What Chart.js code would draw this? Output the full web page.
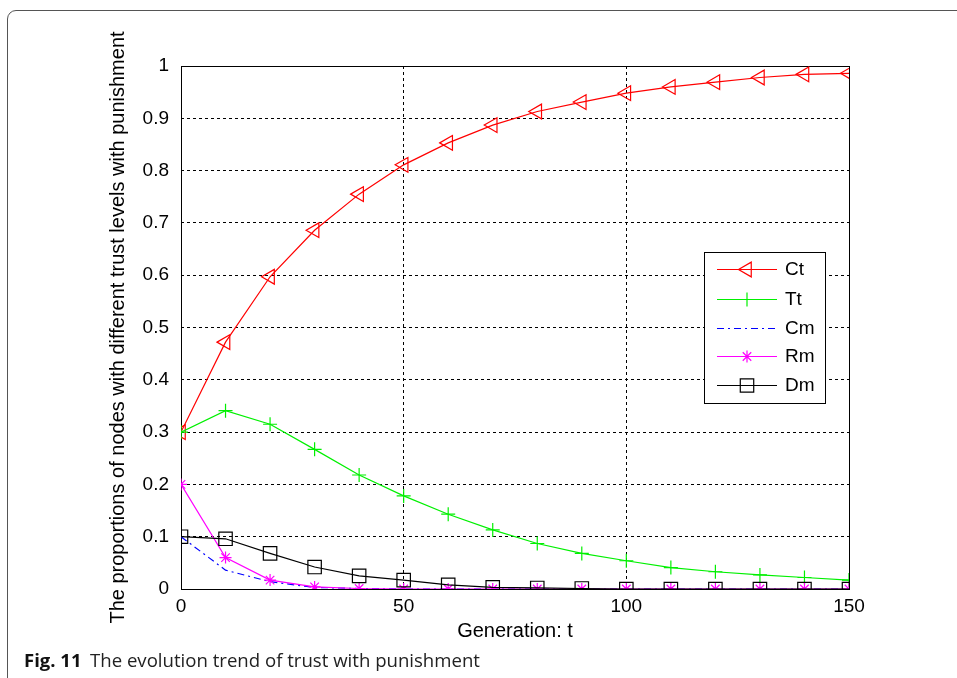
<!DOCTYPE html>
<html>
<head>
<meta charset="utf-8">
<script src="https://cdn.jsdelivr.net/npm/chart.js@4.4.0/dist/chart.umd.min.js"></script>
<style>
  html, body { margin: 0; padding: 0; background: #fff; overflow: hidden; }
  #frame { position: absolute; left: 7px; top: 10px; width: 1000px; height: 1000px; border: 1px solid #555; border-radius: 9px; }
  #wrap { position: absolute; left: 0; top: 0; width: 957px; height: 678px; }
</style>
</head>
<body>
<div id="frame"></div>
<div id="wrap"><canvas id="chart"></canvas></div>
<script>
// valores (cada 10 generaciones)
const generaciones = [0, 10, 20, 30, 40, 50, 60, 70, 80, 90, 100, 110, 120, 130, 140, 150];
const valoresCt = [0.30, 0.472, 0.597, 0.686, 0.755, 0.811, 0.853, 0.887, 0.913, 0.931, 0.948, 0.960, 0.969, 0.978, 0.984, 0.986];
const valoresTt = [0.30, 0.341, 0.315, 0.267, 0.218, 0.178, 0.143, 0.113, 0.087, 0.068, 0.054, 0.041, 0.033, 0.027, 0.022, 0.017];
const valoresCm = [0.10, 0.036, 0.014, 0.003, 0.001, 0, 0, 0, 0, 0, 0, 0, 0, 0, 0, 0];
const valoresRm = [0.20, 0.060, 0.017, 0.004, 0.001, 0, 0, 0, 0, 0, 0, 0, 0, 0, 0, 0];
const valoresDm = [0.10, 0.096, 0.068, 0.042, 0.025, 0.017, 0.008, 0.003, 0.002, 0.001, 0, 0, 0, 0, 0, 0];
const nombresSeries = ['Ct', 'Tt', 'Cm', 'Rm', 'Dm'];
const ticksX = [0, 50, 100, 150];
const ticksY = [0, 0.1, 0.2, 0.3, 0.4, 0.5, 0.6, 0.7, 0.8, 0.9, 1];
const etiquetasY = ['0', '0.1', '0.2', '0.3', '0.4', '0.5', '0.6', '0.7', '0.8', '0.9', '1'];

const fuenteEjes = 'Arial, "Liberation Sans", sans-serif';

function puntos(valores) {
    return generaciones.map((g, i) => ({ x: g, y: valores[i] }));
}

// caja completa del area de graficos (estilo matlab)
const cajaEjes = {
    id: 'cajaEjes',
    beforeDatasetsDraw(chart) {
        const { ctx, chartArea: a } = chart;
        ctx.save();
        ctx.strokeStyle = '#000';
        ctx.lineWidth = 1;
        ctx.strokeRect(Math.round(a.left) + 0.5, Math.round(a.top) + 0.5,
            Math.round(a.right - a.left), Math.round(a.bottom - a.top));
        ctx.restore();
    }
};

// leyenda dibujada dentro del grafico
const leyendaInterna = {
    id: 'leyendaInterna',
    afterDatasetsDraw(chart) {
        const ctx = chart.ctx;
        const caja = { x: 704, y: 252, w: 121, h: 151 };
        const filasY = [269, 299, 328, 356, 385];
        ctx.save();
        ctx.fillStyle = '#fff';
        ctx.fillRect(caja.x, caja.y, caja.w, caja.h);
        ctx.strokeStyle = '#000';
        ctx.lineWidth = 1;
        ctx.strokeRect(caja.x + 0.5, caja.y + 0.5, caja.w, caja.h);
        nombresSeries.forEach((nombre, i) => {
            const ds = chart.data.datasets[i];
            const y = filasY[i] + 0.5;
            ctx.strokeStyle = ds.borderColor;
            ctx.lineWidth = ds.borderWidth;
            ctx.setLineDash(ds.borderDash || []);
            ctx.beginPath();
            ctx.moveTo(717, y);
            ctx.lineTo(777, y);
            ctx.stroke();
            ctx.setLineDash([]);
            if (ds.pointRadius > 0) {
                ctx.fillStyle = 'rgba(0,0,0,0)';
                Chart.helpers.drawPoint(ctx, {
                    pointStyle: ds.pointStyle,
                    rotation: ds.pointRotation || 0,
                    radius: ds.pointRadius,
                    borderWidth: ds.pointBorderWidth
                }, 747, y);
            }
            ctx.fillStyle = '#000';
            ctx.font = '19px ' + fuenteEjes;
            ctx.textBaseline = 'middle';
            ctx.textAlign = 'left';
            ctx.fillText(nombre, 785, y);
        });
        ctx.restore();
    }
};

// pie de figura
const pieFigura = {
    id: 'pieFigura',
    afterDraw(chart) {
        const ctx = chart.ctx;
        ctx.save();
        ctx.textBaseline = 'alphabetic';
        ctx.textAlign = 'left';
        ctx.fillStyle = '#111';
        ctx.font = 'bold 18.5px "Open Sans", "Noto Sans", sans-serif';
        ctx.fillText('Fig. 11', 24, 667);
        ctx.fillStyle = '#222';
        ctx.font = '18.6px "Open Sans", "Noto Sans", sans-serif';
        ctx.fillText('The evolution trend of trust with punishment', 90, 667);
        ctx.restore();
    }
};

new Chart(document.getElementById('chart').getContext('2d'), {
    type: 'line',
    data: {
        datasets: [
            {
                label: 'Ct', data: puntos(valoresCt), order: 5,
                borderColor: '#ff0000', backgroundColor: 'rgba(0,0,0,0)', borderWidth: 1.2,
                pointStyle: 'triangle', pointRotation: -90, pointRadius: 8.5,
                pointBorderColor: '#ff0000', pointBackgroundColor: 'rgba(0,0,0,0)', pointBorderWidth: 1.2
            },
            {
                label: 'Tt', data: puntos(valoresTt), order: 4,
                borderColor: '#00f000', backgroundColor: 'rgba(0,0,0,0)', borderWidth: 1.2,
                pointStyle: 'cross', pointRadius: 7,
                pointBorderColor: '#00f000', pointBorderWidth: 1.2
            },
            {
                label: 'Cm', data: puntos(valoresCm), order: 3,
                borderColor: '#0000ff', backgroundColor: 'rgba(0,0,0,0)', borderWidth: 1.2,
                borderDash: [7, 4, 2, 4], pointRadius: 0
            },
            {
                label: 'Rm', data: puntos(valoresRm), order: 2,
                borderColor: '#ff00ff', backgroundColor: 'rgba(0,0,0,0)', borderWidth: 1.2,
                pointStyle: 'star', pointRadius: 6,
                pointBorderColor: '#ff00ff', pointBorderWidth: 1.2
            },
            {
                label: 'Dm', data: puntos(valoresDm), order: 1,
                borderColor: '#000000', backgroundColor: 'rgba(0,0,0,0)', borderWidth: 1.2,
                pointStyle: 'rect', pointRadius: 9.5,
                pointBorderColor: '#000000', pointBackgroundColor: 'rgba(0,0,0,0)', pointBorderWidth: 1.2
            }
        ]
    },
    options: {
        responsive: true,
        maintainAspectRatio: false,
        animation: false,
        events: [],
        layout: { padding: { left: 0, top: 66, right: 108, bottom: 0 } },
        scales: {
            x: {
                type: 'linear',
                min: 0,
                max: 150,
                afterFit: (escala) => { escala.height = 89; },
                afterBuildTicks: (escala) => { escala.ticks = ticksX.map(v => ({ value: v })); },
                grid: { color: '#000', lineWidth: 1, drawTicks: false },
                border: { display: false, dash: [3, 3] },
                ticks: {
                    color: '#000', padding: 6,
                    font: { family: fuenteEjes, size: 19 },
                    maxRotation: 0,
                    callback: (v) => String(v)
                },
                title: {
                    display: true, text: 'Generation: t', color: '#000',
                    font: { family: fuenteEjes, size: 20 },
                    padding: { top: 0, bottom: 35 }
                }
            },
            y: {
                type: 'linear',
                min: 0,
                max: 1,
                afterFit: (escala) => { escala.width = 181; },
                afterBuildTicks: (escala) => { escala.ticks = ticksY.map(v => ({ value: v })); },
                grid: { color: '#000', lineWidth: 1, drawTicks: false },
                border: { display: false, dash: [3, 3] },
                ticks: {
                    color: '#000', padding: 12,
                    font: { family: fuenteEjes, size: 19 },
                    callback: (v, i) => etiquetasY[i]
                },
                title: {
                    display: true,
                    text: 'The proportions of nodes with different trust levels with punishment',
                    color: '#000',
                    font: { family: fuenteEjes, size: 20 },
                    padding: { top: 106, bottom: 0 }
                }
            }
        },
        plugins: {
            legend: { display: false },
            tooltip: { enabled: false }
        }
    },
    plugins: [cajaEjes, leyendaInterna, pieFigura]
});
</script>
</body>
</html>
